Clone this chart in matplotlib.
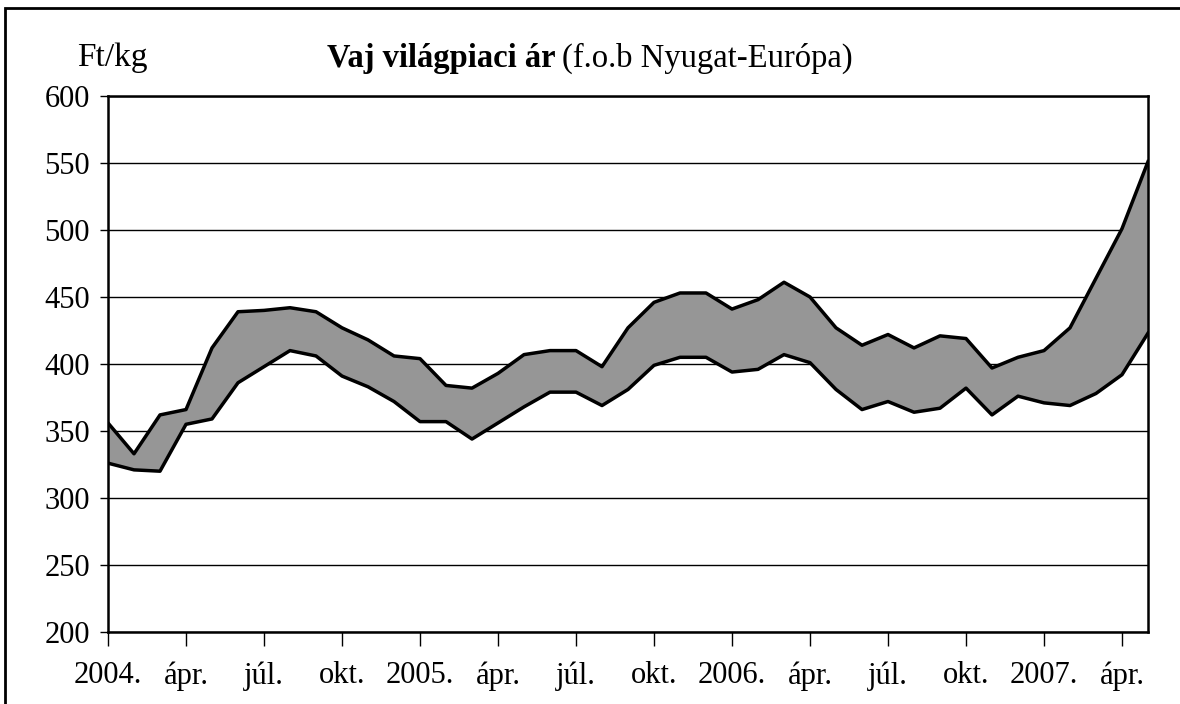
import matplotlib
matplotlib.use('Agg')
import matplotlib.pyplot as plt
from matplotlib.patches import Rectangle

# monthly butter price band, Jan 2004 - May 2007 (Ft/kg)
upper = [356, 333, 362, 366, 412, 439, 440, 442, 439, 427, 418, 406, 404, 384,
         382, 393, 407, 410, 410, 398, 427, 446, 453, 453, 441, 448, 461, 450,
         427, 414, 422, 412, 421, 419, 397, 405, 410, 427, 464, 501, 551]
lower = [326, 321, 320, 355, 359, 386, 398, 410, 406, 391, 383, 372, 357, 357,
         344, 356, 368, 379, 379, 369, 381, 399, 405, 405, 394, 396, 407, 401,
         381, 366, 372, 364, 367, 382, 362, 376, 371, 369, 378, 392, 423]
tick_labels = ['2004.', 'ápr.', 'júl.', 'okt.', '2005.', 'ápr.', 'júl.', 'okt.',
               '2006.', 'ápr.', 'júl.', 'okt.', '2007.', 'ápr.']

plt.rcParams['font.family'] = ['Liberation Serif', 'DejaVu Serif']

x = list(range(len(upper)))

fig = plt.figure(figsize=(11.8, 7.04), dpi=100)
ax = fig.add_axes([108 / 1180, 1 - 632 / 704, 1040 / 1180, 536 / 704])

ax.fill_between(x, lower, upper, color='#969696', zorder=2, linewidth=0)
ax.plot(x, upper, color='black', lw=2.5, zorder=3)
ax.plot(x, lower, color='black', lw=2.5, zorder=3)

ax.set_xlim(0, len(upper) - 1)
ax.set_ylim(200, 600)
ax.set_yticks(range(200, 601, 50))
ax.set_xticks(range(0, len(upper), 3))
ax.set_xticklabels(tick_labels)
ax.tick_params(axis='both', labelsize=22, color='black')
ax.tick_params(axis='y', length=6, width=1, pad=7)
ax.tick_params(axis='x', length=10, width=1, pad=11)

ax.yaxis.grid(True, color='black', lw=1)
ax.set_axisbelow(True)
for s in ax.spines.values():
    s.set_linewidth(1.8)
    s.set_zorder(4)

# title: bold part + normal part
fig.text(556 / 1180, 1 - 58 / 704, 'Vaj világpiaci ár', fontsize=23.5,
         fontweight='bold', ha='right', va='center')
fig.text(562 / 1180, 1 - 58 / 704, '(f.o.b Nyugat-Európa)', fontsize=23.5,
         ha='left', va='center')
fig.text(112 / 1180, 1 - 58 / 704, 'Ft/kg', fontsize=24, ha='center', va='center')

# outer chart frame
fig.patches.append(Rectangle((5 / 1180, -0.1), 1.2, 1 - 8 / 704 + 0.1,
                             transform=fig.transFigure, fill=False,
                             edgecolor='black', lw=2))

plt.savefig('out.png', dpi=100)
